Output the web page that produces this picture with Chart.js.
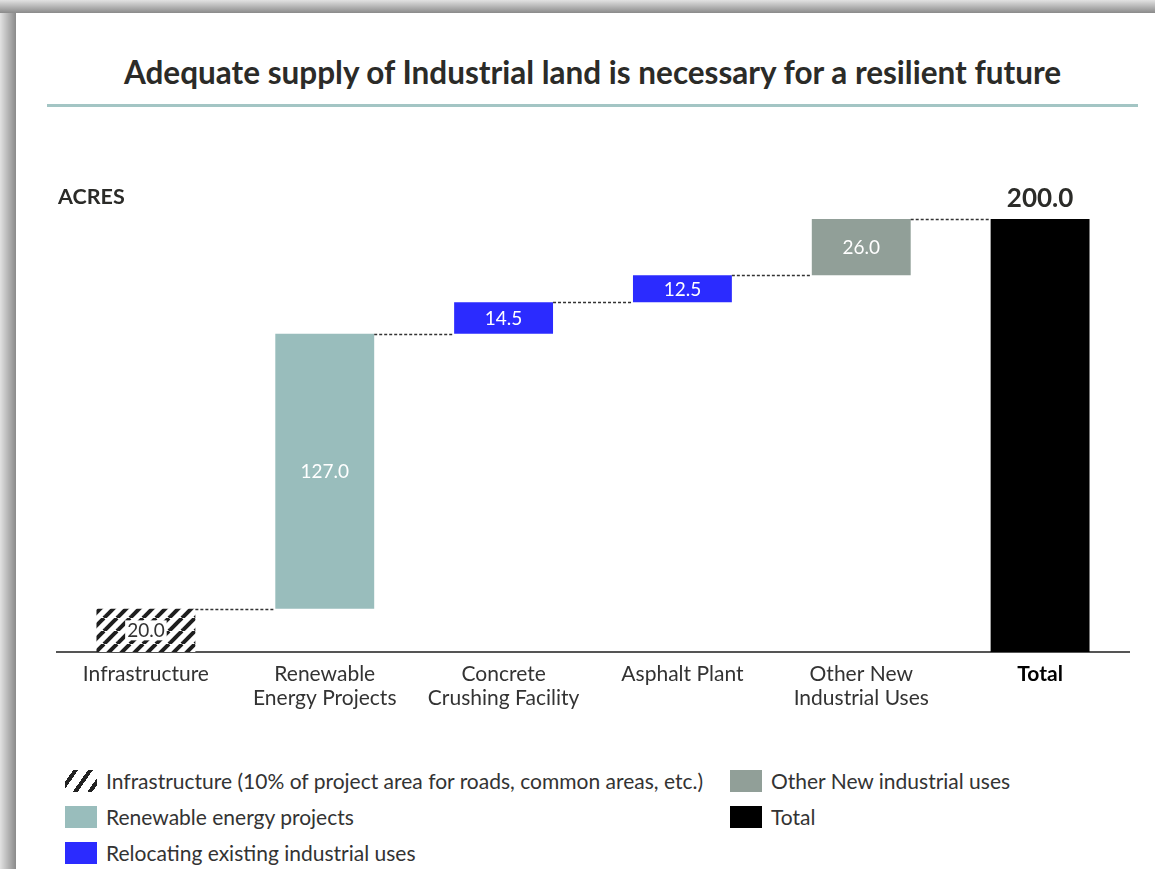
<!DOCTYPE html>
<html>
<head>
<meta charset="utf-8">
<script src="https://cdn.jsdelivr.net/npm/chart.js@4.4.1/dist/chart.umd.min.js"></script>
<style>
    body { margin: 0; width: 1155px; height: 869px; overflow: hidden; background: #fff; font-family: Lato, "Open Sans", sans-serif; }
    .edge-left { position: absolute; left: 0; top: 0; width: 16px; height: 869px; background: linear-gradient(to right, #e2e2e2, #8a8a8a); }
    .edge-top { position: absolute; left: 0; top: 0; width: 1155px; height: 13px; background: linear-gradient(to bottom, #e2e2e2, #8a8a8a); }
    .title { position: absolute; left: 47px; width: 1091px; top: 52px; text-align: center; font-weight: bold; font-size: 31.5px; line-height: 40px; color: #2b2b28; }
    .rule { position: absolute; left: 47px; width: 1091px; top: 104px; height: 3px; background: #a3c5c4; }
    .chart-box { position: absolute; left: 0; top: 150px; width: 1155px; height: 580px; }
    .legend-item { position: absolute; font-size: 21px; color: #333; line-height: 22px; }
    .legend-item span { position: absolute; left: 0; top: 0; width: 32px; height: 22px; }
    .legend-item div { position: absolute; left: 41px; top: 0; white-space: nowrap; }
    .hatch { background: repeating-linear-gradient(-55deg, #fff 0 4px, #222 4px 8px, #fff 8px 12px); }
</style>
</head>
<body>
<div class="edge-left"></div>
<div class="edge-top"></div>
<div class="title">Adequate supply of Industrial land is necessary for a resilient future</div>
<div class="rule"></div>
<div class="chart-box"><canvas id="myChart" width="1155" height="580"></canvas></div>

<div class="legend-item" style="left:65px;top:770px"><span class="hatch"></span><div>Infrastructure (10% of project area for roads, common areas, etc.)</div></div>
<div class="legend-item" style="left:65px;top:806px"><span style="background:#99bdbc"></span><div>Renewable energy projects</div></div>
<div class="legend-item" style="left:65px;top:842px"><span style="background:#2b2bff"></span><div>Relocating existing industrial uses</div></div>
<div class="legend-item" style="left:730px;top:770px"><span style="background:#919f98"></span><div>Other New industrial uses</div></div>
<div class="legend-item" style="left:730px;top:806px"><span style="background:#000"></span><div>Total</div></div>

<script>
// data
var categories = [['Infrastructure'], ['Renewable', 'Energy Projects'], ['Concrete', 'Crushing Facility'], ['Asphalt Plant'], ['Other New', 'Industrial Uses'], ['Total']];
var values = [20.0, 127.0, 14.5, 12.5, 26.0];
var barColors = ['hatch', '#99bdbc', '#2b2bff', '#2b2bff', '#919f98', '#000000'];

// build floating bars from running totals
var ranges = [];
var running = 0;
values.forEach(function (v) {
    ranges.push([running, running + v]);
    running += v;
});
ranges.push([0, running]);
var labelValues = values.concat([running]);

// hatch pattern for infrastructure
function makeHatch(ctx) {
    var c = document.createElement('canvas');
    c.width = 13; c.height = 13;
    var p = c.getContext('2d');
    p.fillStyle = '#fff';
    p.fillRect(0, 0, 13, 13);
    p.strokeStyle = '#1e1e1e';
    p.lineWidth = 4;
    [[-13, 13, 0, 0], [0, 13, 13, 0], [13, 13, 26, 0]].forEach(function (l) {
        p.beginPath();
        p.moveTo(l[0], l[1]);
        p.lineTo(l[2], l[3]);
        p.stroke();
    });
    return ctx.createPattern(c, 'repeat');
}

var ctx = document.getElementById('myChart').getContext('2d');
var hatch = makeHatch(ctx);

// dashed connectors, value labels and axis title
var waterfallExtras = {
    id: 'waterfallExtras',
    afterDatasetsDraw: function (chart) {
        var c = chart.ctx;
        var meta = chart.getDatasetMeta(0);
        var y = chart.scales.y;
        c.save();
        // connectors
        c.strokeStyle = '#333';
        c.lineWidth = 1.3;
        c.setLineDash([3, 2]);
        for (var i = 0; i < meta.data.length - 1; i++) {
            var a = meta.data[i], b = meta.data[i + 1];
            var yy = Math.round(y.getPixelForValue(ranges[i][1])) + 0.5;
            c.beginPath();
            c.moveTo(a.x + a.width / 2, yy);
            c.lineTo(b.x - b.width / 2, yy);
            c.stroke();
        }
        c.setLineDash([]);
        // value labels
        c.textAlign = 'center';
        c.textBaseline = 'middle';
        meta.data.forEach(function (bar, i) {
            var txt = labelValues[i].toFixed(1);
            var midY = (bar.y + bar.base) / 2;
            if (i === meta.data.length - 1) {
                c.font = 'bold 26px Lato';
                c.fillStyle = '#2b2b28';
                c.fillText(txt, bar.x, bar.y - 20);
            } else if (i === 0) {
                c.font = '19px Lato';
                var w = c.measureText(txt).width + 4;
                c.fillStyle = '#fff';
                c.fillRect(bar.x - w / 2, midY - 10, w, 20);
                c.fillStyle = '#333';
                c.fillText(txt, bar.x, midY + 1);
            } else {
                c.font = '19px Lato';
                c.fillStyle = '#ffffff';
                c.fillText(txt, bar.x, midY + 1);
            }
        });
        // axis title
        c.textAlign = 'left';
        c.font = 'bold 21.5px Lato';
        c.fillStyle = '#2b2b28';
        c.fillText('ACRES', 58, 47);
        c.restore();
    }
};

var chart = new Chart(ctx, {
    type: 'bar',
    data: {
        labels: categories,
        datasets: [{
            data: ranges,
            backgroundColor: barColors.map(function (col) { return col === 'hatch' ? hatch : col; }),
            borderWidth: 0,
            categoryPercentage: 1,
            barPercentage: 0.553
        }]
    },
    options: {
        responsive: false,
        animation: false,
        layout: { padding: { left: 56.5, right: 25.5, top: 69, bottom: 8 } },
        plugins: {
            legend: { display: false },
            tooltip: { enabled: false }
        },
        scales: {
            x: {
                grid: { display: false, drawTicks: false },
                border: { display: true, color: '#555', width: 2 },
                afterFit: function (s) { s.height = 70; },
                ticks: {
                    padding: 10,
                    color: function (c) { return c.index === 5 ? '#000' : '#333'; },
                    font: function (c) {
                        return { family: 'Lato', size: 21, lineHeight: 1.15, weight: c.index === 5 ? 'bold' : 'normal' };
                    }
                }
            },
            y: {
                display: false,
                min: 0,
                max: 200
            }
        }
    },
    plugins: [waterfallExtras]
});
</script>
</body>
</html>
